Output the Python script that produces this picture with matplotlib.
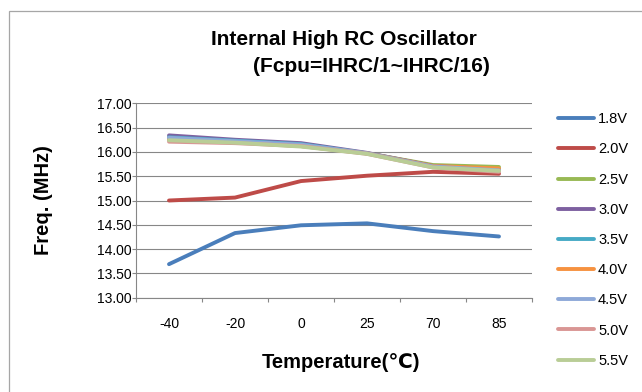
import matplotlib
matplotlib.use("Agg")
import matplotlib.pyplot as plt
from matplotlib.patches import Rectangle
from matplotlib.ticker import FixedLocator, NullFormatter

plt.rcParams['font.family'] = ['Liberation Sans', 'DejaVu Sans', 'Noto Sans CJK SC']

# Oscillator frequency (MHz) versus ambient temperature, one series per supply voltage
temps = ["-40", "-20", "0", "25", "70", "85"]
voltages = ["1.8V", "2.0V", "2.5V", "3.0V", "3.5V", "4.0V", "4.5V", "5.0V", "5.5V"]
f_1v8 = [13.69, 14.33, 14.49, 14.53, 14.37, 14.26]
f_2v0 = [15.00, 15.06, 15.40, 15.51, 15.59, 15.55]
f_2v5 = [16.25, 16.20, 16.12, 15.97, 15.73, 15.69]
f_3v0 = [16.34, 16.25, 16.18, 15.98, 15.71, 15.64]
f_3v5 = [16.30, 16.23, 16.16, 15.97, 15.70, 15.63]
f_4v0 = [16.26, 16.20, 16.13, 15.97, 15.71, 15.66]
f_4v5 = [16.29, 16.22, 16.15, 15.97, 15.70, 15.62]
f_5v0 = [16.21, 16.18, 16.12, 15.96, 15.68, 15.59]
f_5v5 = [16.24, 16.19, 16.11, 15.96, 15.68, 15.61]
series = [f_1v8, f_2v0, f_2v5, f_3v0, f_3v5, f_4v0, f_4v5, f_5v0, f_5v5]
colors = ["#4A7EBB", "#BE4B48", "#98B954", "#7D60A0", "#46AAC5",
          "#F69240", "#8EA9D8", "#D99694", "#B9CD96"]
y_ticks = [13.0, 13.5, 14.0, 14.5, 15.0, 15.5, 16.0, 16.5, 17.0]

W, H = 642, 392
fig = plt.figure(figsize=(W / 100, H / 100), dpi=100)
fig.patch.set_facecolor("white")

# chart-area frame
fig.add_artist(Rectangle((9 / W, -0.2), 1.2, 1.2 - 11 / H,
                         transform=fig.transFigure, fill=False,
                         edgecolor="#A6A6A6", linewidth=0.9, clip_on=False))

left, right, top, bottom = 136, 532, 103.3, 297.7
ax = fig.add_axes([left / W, 1 - bottom / H, (right - left) / W, (bottom - top) / H])
ax.set_facecolor("white")

x = list(range(len(temps)))
for vals, col, lab in zip(series, colors, voltages):
    ax.plot(x, vals, color=col, linewidth=2.8, label=lab,
            solid_capstyle="round", solid_joinstyle="round")

ax.set_xlim(-0.5, len(temps) - 0.5)
ax.set_ylim(13.0, 17.0)
ax.set_yticks(y_ticks)
ax.set_yticklabels([f"{v:.2f}" for v in y_ticks])
ax.set_xticks(x)
ax.set_xticklabels(temps)
ax.xaxis.set_minor_locator(FixedLocator([i - 0.5 for i in range(len(temps) + 1)]))
ax.xaxis.set_minor_formatter(NullFormatter())

grid_col = "#878787"
ax.yaxis.grid(True, color=grid_col, linewidth=0.8)
ax.set_axisbelow(True)
for s in ("top", "right"):
    ax.spines[s].set_visible(False)
for s in ("left", "bottom"):
    ax.spines[s].set_color(grid_col)
    ax.spines[s].set_linewidth(0.8)

ax.tick_params(axis="x", which="major", length=0, pad=14, labelsize=10, colors="black")
ax.tick_params(axis="x", which="minor", length=3, width=0.8, color=grid_col, direction="out")
ax.tick_params(axis="y", which="major", length=3, width=0.8, color=grid_col,
               direction="out", pad=0.5, labelsize=10, labelcolor="black")

# titles
fig.text(344 / W, 1 - 45 / H, "Internal High RC Oscillator", ha="center", va="baseline",
         fontsize=15, fontweight="bold")
fig.text(371 / W, 1 - 71.7 / H, "(Fcpu=IHRC/1~IHRC/16)", ha="center", va="baseline",
         fontsize=15, fontweight="bold")
fig.text(44 / W, 1 - 200.5 / H, "Freq. (MHz)", rotation=90, ha="center", va="center",
         fontsize=14.5, fontweight="bold")
fig.text(341 / W, 1 - 368.3 / H, "Temperature(℃)", ha="center", va="baseline",
         fontsize=14.5, fontweight="bold")

leg = fig.legend(loc="center left", bbox_to_anchor=(558 / W, 1 - 240 / H),
                 frameon=False, fontsize=10.5, handlelength=2.45, handletextpad=0.3,
                 labelspacing=1.11, borderpad=0, borderaxespad=0)
for line in leg.get_lines():
    line.set_linewidth(2.8)

fig.savefig("out.png", dpi=100, facecolor="white")
